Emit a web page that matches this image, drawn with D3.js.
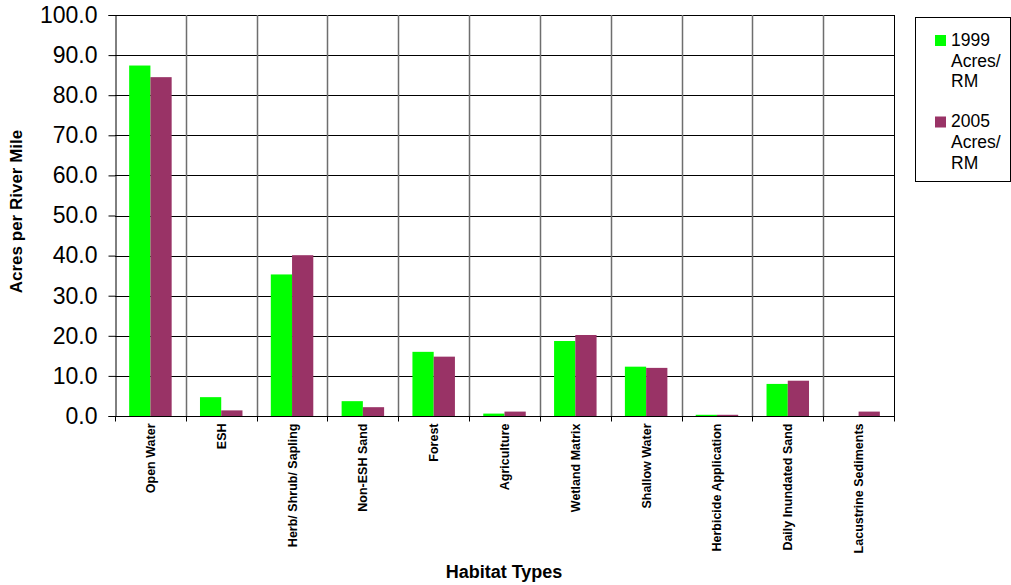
<!DOCTYPE html>
<html>
<head>
<meta charset="utf-8">
<script src="https://cdn.jsdelivr.net/npm/d3@7"></script>
<style>
  html, body { margin: 0; padding: 0; background: #fff; }
  svg { display: block; font-family: Arial, "Liberation Sans", sans-serif; }
</style>
</head>
<body>
<svg id="chart" width="1011" height="585"></svg>
<script>
// Habitat categories along the x axis
const categories = [
  "Open Water", "ESH", "Herb/ Shrub/ Sapling", "Non-ESH Sand", "Forest",
  "Agriculture", "Wetland Matrix", "Shallow Water", "Herbicide Application",
  "Daily Inundated Sand", "Lacustrine Sediments"
];
// Acres per river mile, by survey year
const acres1999 = [87.4, 4.7, 35.3, 3.7, 16.0, 0.6, 18.7, 12.3, 0.3, 8.0, 0.0];
const acres2005 = [84.5, 1.4, 40.1, 2.2, 14.8, 1.1, 20.2, 12.0, 0.3, 8.8, 1.1];
const seriesNames = ["1999", "2005"];
const seriesColors = ["#00ff00", "#993366"];
const legendLines = [["1999", "Acres/", "RM"], ["2005", "Acres/", "RM"]];
const yTicks = [0, 10, 20, 30, 40, 50, 60, 70, 80, 90, 100];

const svg = d3.select("#chart");
const plot = { left: 115, right: 894, top: 15, bottom: 416 };

const y = d3.scaleLinear().domain([0, 100]).range([plot.bottom, plot.top]);
const x0 = d3.scaleBand().domain(categories).range([plot.left, plot.right]).padding(0);
const bw = x0.bandwidth();
const x1 = d3.scaleBand().domain(seriesNames).range([bw * 0.2, bw * 0.8]).padding(0);

// Horizontal grid lines
svg.append("g")
  .selectAll("line").data(yTicks).join("line")
  .attr("x1", plot.left).attr("x2", plot.right)
  .attr("y1", d => Math.round(y(d)) + 0.5).attr("y2", d => Math.round(y(d)) + 0.5)
  .attr("stroke", "#000").attr("stroke-width", 1);

// Vertical dividers between categories
svg.append("g")
  .selectAll("line").data(categories.slice(1)).join("line")
  .attr("x1", d => Math.round(x0(d)) + 0.5).attr("x2", d => Math.round(x0(d)) + 0.5)
  .attr("y1", plot.top).attr("y2", plot.bottom)
  .attr("stroke", "#6e6e6e").attr("stroke-width", 1.5);

// Right border of the plot
svg.append("line")
  .attr("x1", plot.right + 0.5).attr("x2", plot.right + 0.5)
  .attr("y1", plot.top).attr("y2", plot.bottom + 5)
  .attr("stroke", "#000");

// Bars
const rows = categories.map((c, i) => ({ cat: c, vals: [acres1999[i], acres2005[i]] }));
svg.append("g")
  .selectAll("g").data(rows).join("g")
  .attr("transform", d => `translate(${x0(d.cat)},0)`)
  .selectAll("rect")
  .data(d => d.vals.map((v, j) => ({ v, s: seriesNames[j], c: seriesColors[j] })))
  .join("rect")
  .attr("x", d => x1(d.s))
  .attr("width", x1.bandwidth())
  .attr("y", d => y(d.v))
  .attr("height", d => y(0) - y(d.v))
  .attr("fill", d => d.c);

// Y axis
const yAxis = d3.axisLeft(y).tickValues(yTicks).tickFormat(d3.format(".1f")).tickSize(7).tickPadding(11);
const gy = svg.append("g").attr("transform", `translate(${plot.left + 0.5},0)`).call(yAxis);
gy.select(".domain").attr("stroke", "#000");
gy.selectAll(".tick line").attr("stroke", "#000");
gy.selectAll(".tick text")
  .attr("font-size", "23px").attr("fill", "#000")
  .attr("font-family", "Arial, 'Liberation Sans', sans-serif");

// X axis with tick marks at category boundaries
const gx = svg.append("g").attr("transform", `translate(0,${plot.bottom + 0.5})`);
gx.append("line")
  .attr("x1", plot.left).attr("x2", plot.right + 1)
  .attr("stroke", "#000");
gx.selectAll("line.tk").data(categories.concat(["__end"])).join("line")
  .attr("class", "tk")
  .attr("x1", (d, i) => Math.round(plot.left + i * bw) + 0.5)
  .attr("x2", (d, i) => Math.round(plot.left + i * bw) + 0.5)
  .attr("y1", 0).attr("y2", 5)
  .attr("stroke", "#000");
gx.selectAll("text").data(categories).join("text")
  .attr("transform", d => `translate(${x0(d) + bw / 2 + 4.5},7) rotate(-90)`)
  .attr("text-anchor", "end")
  .attr("font-size", "12.5px").attr("font-weight", "bold")
  .text(d => d);

// Axis titles
svg.append("text")
  .attr("transform", `translate(22,${(plot.top + plot.bottom) / 2 - 4}) rotate(-90)`)
  .attr("text-anchor", "middle")
  .attr("font-size", "17px").attr("font-weight", "bold")
  .text("Acres per River Mile");

svg.append("text")
  .attr("x", 504).attr("y", 578)
  .attr("text-anchor", "middle")
  .attr("font-size", "18px").attr("font-weight", "bold")
  .text("Habitat Types");

// Legend
const lg = svg.append("g");
lg.append("rect")
  .attr("x", 915.5).attr("y", 17.5).attr("width", 95).attr("height", 164)
  .attr("fill", "#fff").attr("stroke", "#000");
legendLines.forEach((lines, k) => {
  const top = 35 + k * 81.5;
  lg.append("rect")
    .attr("x", 935).attr("y", top).attr("width", 11).attr("height", 11)
    .attr("fill", seriesColors[k]);
  lines.forEach((t, j) => {
    lg.append("text")
      .attr("x", j === 0 ? 951 : 951).attr("y", top + 10.7 + j * 20.8)
      .attr("font-size", "17.5px")
      .text(t);
  });
});
</script>
</body>
</html>
